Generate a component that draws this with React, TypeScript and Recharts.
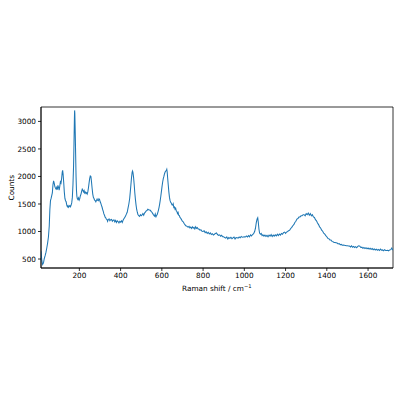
import React from 'react';
import { LineChart, Line, XAxis, YAxis, ReferenceArea } from 'recharts';

// Raman shift (cm^-1) and counts
const shifts = [
  14, 18, 22, 26, 30, 34, 38, 42, 46, 50, 54, 57, 60, 63, 66, 69, 72, 75, 78, 81,
  84, 87, 90, 93, 96, 99, 102, 105, 108, 111, 114, 117, 119, 121, 124, 127, 130, 133, 136, 139,
  142, 145, 148, 151, 154, 157, 160, 163, 166, 169, 172, 174, 176, 177, 178, 180, 182, 184, 186, 188,
  190, 193, 196, 199, 202, 205, 208, 211, 214, 217, 220, 223, 226, 229, 232, 235, 238, 241, 244, 247,
  250, 253, 256, 259, 262, 265, 268, 271, 274, 277, 280, 283, 286, 289, 292, 295, 298, 301, 304, 307,
  310, 313, 316, 319, 322, 325, 328, 331, 334, 337, 340, 344, 348, 352, 356, 360, 364, 368, 372, 376,
  380, 384, 388, 392, 396, 400, 404, 408, 412, 416, 420, 424, 428, 432, 436, 440, 444, 447, 450, 453,
  456, 458, 460, 463, 466, 469, 472, 475, 478, 481, 484, 488, 492, 496, 500, 504, 508, 512, 516, 520,
  524, 528, 532, 536, 540, 544, 548, 552, 556, 560, 564, 568, 571, 574, 577, 580, 583, 586, 589, 592,
  595, 598, 601, 604, 607, 610, 613, 616, 619, 622, 624, 626, 628, 631, 634, 637, 640, 643, 646, 649,
  652, 655, 658, 661, 664, 667, 670, 673, 676, 679, 682, 685, 688, 691, 694, 697, 700, 704, 708, 712,
  716, 720, 724, 728, 732, 736, 740, 744, 748, 752, 756, 760, 764, 768, 772, 776, 780, 785, 790, 795,
  800, 805, 810, 815, 820, 825, 830, 835, 840, 845, 850, 855, 860, 865, 870, 875, 880, 885, 890, 895,
  900, 905, 910, 915, 920, 925, 930, 935, 940, 945, 950, 955, 960, 965, 970, 975, 980, 985, 990, 995,
  1000, 1005, 1010, 1015, 1020, 1025, 1030, 1035, 1040, 1045, 1050, 1054, 1058, 1062, 1065, 1068, 1071, 1074, 1078, 1082,
  1086, 1090, 1095, 1100, 1105, 1110, 1115, 1120, 1125, 1130, 1135, 1140, 1145, 1150, 1155, 1160, 1165, 1170, 1175, 1180,
  1185, 1190, 1195, 1200, 1205, 1210, 1215, 1220, 1225, 1230, 1235, 1240, 1245, 1250, 1255, 1260, 1265, 1270, 1275, 1280,
  1285, 1290, 1295, 1300, 1305, 1310, 1315, 1320, 1325, 1330, 1335, 1340, 1345, 1350, 1355, 1360, 1365, 1370, 1375, 1380,
  1385, 1390, 1395, 1400, 1405, 1410, 1415, 1420, 1425, 1430, 1435, 1440, 1445, 1450, 1455, 1460, 1465, 1470, 1475, 1480,
  1485, 1490, 1495, 1500, 1505, 1510, 1515, 1520, 1525, 1530, 1535, 1540, 1545, 1550, 1555, 1560, 1565, 1570, 1575, 1580,
  1585, 1590, 1595, 1600, 1605, 1610, 1615, 1620, 1625, 1630, 1635, 1640, 1645, 1650, 1655, 1660, 1665, 1670, 1675, 1680,
  1685, 1690, 1695, 1700, 1705, 1710, 1715, 1720,
];

const counts = [
  640, 470, 400, 430, 510, 560, 620, 700, 790, 900, 1100, 1400, 1560, 1600, 1650, 1700, 1850, 1920, 1880, 1820,
  1790, 1770, 1800, 1760, 1840, 1800, 1750, 1820, 1900, 1880, 1960, 2080, 2110, 2050, 1900, 1720, 1600, 1560, 1540, 1480,
  1450, 1470, 1440, 1460, 1470, 1450, 1480, 1520, 1620, 1850, 2200, 2600, 3050, 3200, 3150, 2800, 2400, 2000, 1750, 1640,
  1600, 1580, 1610, 1570, 1600, 1650, 1680, 1730, 1770, 1750, 1720, 1745, 1700, 1715, 1690, 1705, 1680, 1720, 1790, 1880,
  1960, 2010, 2000, 1900, 1780, 1680, 1620, 1600, 1570, 1560, 1540, 1565, 1590, 1565, 1560, 1595, 1580, 1540, 1515, 1475,
  1445, 1400, 1365, 1320, 1295, 1260, 1250, 1225, 1220, 1185, 1215, 1230, 1195, 1215, 1220, 1185, 1205, 1210, 1175, 1200,
  1165, 1195, 1180, 1155, 1185, 1170, 1195, 1165, 1205, 1230, 1255, 1280, 1315, 1350, 1425, 1500, 1600, 1720, 1850, 1980,
  2080, 2100, 2070, 1980, 1850, 1700, 1580, 1480, 1400, 1350, 1310, 1290, 1275, 1305, 1285, 1300, 1325, 1295, 1335, 1350,
  1375, 1380, 1405, 1395, 1390, 1385, 1365, 1350, 1325, 1300, 1280, 1320, 1255, 1295, 1300, 1340, 1380, 1430, 1490, 1560,
  1640, 1730, 1820, 1900, 1960, 2000, 2050, 2080, 2100, 2110, 2130, 2080, 1980, 1850, 1720, 1620, 1560, 1530, 1515, 1485,
  1480, 1505, 1435, 1445, 1405, 1425, 1375, 1365, 1325, 1345, 1295, 1290, 1255, 1245, 1225, 1205, 1185, 1175, 1145, 1125,
  1105, 1100, 1085, 1080, 1095, 1065, 1080, 1055, 1085, 1060, 1075, 1045, 1085, 1055, 1070, 1045, 1045, 1025, 1030, 1005,
  1000, 1015, 980, 995, 965, 985, 955, 975, 945, 960, 935, 950, 965, 975, 945, 930, 940, 915, 930, 905,
  905, 890, 880, 900, 865, 890, 875, 895, 870, 885, 900, 865, 890, 885, 880, 900, 885, 910, 895, 900,
  905, 900, 920, 900, 925, 905, 940, 920, 945, 960, 1000, 1060, 1160, 1230, 1250, 1160, 1040, 970, 950, 965,
  925, 940, 915, 935, 910, 930, 905, 935, 915, 945, 910, 935, 915, 940, 920, 950, 925, 955, 935, 965,
  950, 980, 990, 965, 990, 1000, 1015, 1025, 1055, 1075, 1105, 1125, 1165, 1185, 1225, 1235, 1265, 1265, 1285, 1285,
  1305, 1305, 1285, 1325, 1305, 1335, 1295, 1325, 1285, 1305, 1265, 1255, 1215, 1195, 1155, 1125, 1085, 1065, 1025, 1005,
  970, 955, 925, 905, 875, 870, 845, 845, 820, 815, 800, 800, 795, 790, 775, 780, 760, 765, 750, 755,
  750, 745, 740, 740, 735, 735, 720, 740, 715, 730, 710, 725, 705, 730, 740, 735, 710, 715, 695, 710,
  690, 705, 685, 700, 680, 695, 675, 690, 670, 685, 665, 680, 660, 675, 655, 680, 660, 665, 650, 670,
  655, 655, 660, 650, 665, 670, 700, 660,
];

const xTicks = [200, 400, 600, 800, 1000, 1200, 1400, 1600];
const yTicks = [500, 1000, 1500, 2000, 2500, 3000];

const spectrum = shifts.map((s, i) => ({ shift: s, counts: counts[i] }));

const font = '"DejaVu Sans", sans-serif';
const tickStyle = { fontSize: 7.3, fill: '#000', fontFamily: font };

export default function App() {
  return (
    <div style={{ position: 'absolute', left: 0, top: 0, width: 400, height: 400, background: '#fff' }}>
      <LineChart
        width={400}
        height={400}
        data={spectrum}
        margin={{ top: 107, right: 7, bottom: 102, left: 8 }}
      >
        <XAxis
          type="number"
          dataKey="shift"
          domain={[14, 1721]}
          ticks={xTicks}
          allowDataOverflow
          height={30}
          tickSize={3}
          tick={tickStyle}
          axisLine={{ stroke: '#000', strokeWidth: 0.8 }}
          tickLine={{ stroke: '#000', strokeWidth: 0.8 }}
          label={{
            content: () => (
              <text x={216.8} y={291} textAnchor="middle" fontSize={7.3} fontFamily={font} fill="#000">
                Raman shift / cm
                <tspan fontSize={5.2} dy={-3}>−1</tspan>
              </text>
            ),
          }}
        />
        <YAxis
          type="number"
          domain={[337, 3262]}
          ticks={yTicks}
          allowDataOverflow
          width={33}
          tickSize={3}
          tick={tickStyle}
          axisLine={{ stroke: '#000', strokeWidth: 0.8 }}
          tickLine={{ stroke: '#000', strokeWidth: 0.8 }}
          label={{
            content: () => (
              <text
                x={14}
                y={187.7}
                textAnchor="middle"
                fontSize={7.3}
                fontFamily={font}
                fill="#000"
                transform="rotate(-90 14 187.7)"
              >
                Counts
              </text>
            ),
          }}
        />
        <ReferenceArea x1={14} x2={1721} y1={337} y2={3262} fill="none" stroke="#000" strokeWidth={0.8} fillOpacity={0} />
        <Line
          type="linear"
          dataKey="counts"
          stroke="#1f77b4"
          strokeWidth={1.05}
          dot={false}
          isAnimationActive={false}
        />
      </LineChart>
    </div>
  );
}
